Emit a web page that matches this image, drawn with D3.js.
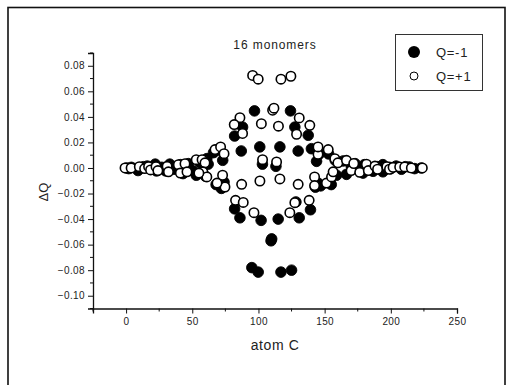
<!DOCTYPE html>
<html>
<head>
<meta charset="utf-8">
<script src="https://cdn.jsdelivr.net/npm/d3@7"></script>
<style>
  html, body { margin: 0; padding: 0; background: #fff; }
  svg { display: block; }
  text { font-family: "Liberation Sans", Arial, sans-serif; fill: #222; }
</style>
</head>
<body>
<svg id="chart" width="506" height="385"></svg>
<script>
// Charge change per carbon atom, Q = -1 (filled markers)
const xNeg = [0.5, 2, 4, 9, 13, 16, 19, 22, 23, 27, 30, 33, 36, 41, 43, 47, 50, 53, 56, 61, 60, 62,
  66, 69, 73, 68, 72, 74, 82, 88, 87, 97, 101, 103, 82, 86, 102, 110, 109.5, 95, 99.8,
  124.2, 127.5, 137.6, 130, 116.2, 113.2, 143.9, 140, 146, 145, 143, 147, 139.3, 130.8, 128.3, 114.9, 117, 125,
  153, 155, 158, 159, 164, 166.5, 170, 173, 179, 180, 184, 186.6, 190, 194, 194, 199, 200, 204, 208, 211, 214, 218, 223];
const yNeg = [0, -0.0005, 0.0005, -0.002, 0.001, 0.0015, -0.001, 0.003, -0.0023, 0.0005, -0.0023, 0.003, -0.001, 0.0026, -0.0044, 0.0034, -0.002, -0.0057, 0.004, 0.0073, -0.0065, 0.003,
  0.012, 0.014, 0.006, -0.013, -0.016, -0.011, 0.025, 0.032, 0.0133, 0.0447, 0.0165, 0.003, -0.032, -0.039, -0.041, -0.0555, -0.057, -0.078, -0.0815,
  0.0447, 0.032, 0.0256, 0.0133, 0.0165, 0.0013, 0.0052, 0.0151, 0.011, -0.0118, -0.015, -0.014, -0.0327, -0.039, -0.0266, -0.040, -0.0815, -0.080,
  0.011, -0.013, 0.006, -0.0057, 0.0055, -0.005, 0.002, 0.0034, -0.004, 0.0026, -0.001, -0.0026, 0.001, 0.0026, -0.003, 0.0005, -0.0005, 0.0015, -0.001, 0.001, 0.0008, -0.0005, 0];

// Charge change per carbon atom, Q = +1 (open markers)
const xPos = [-0.8, 3.8, 10, 14, 17, 18.5, 22.6, 24, 31, 32, 39.5, 41, 44.5, 46, 53, 57.4, 59.6, 58, 61, 55,
  67.2, 71.4, 74, 72.9, 74.7, 68.7, 95.6, 99.8, 117, 124.5, 110.7, 111.7, 102.2, 115.1, 86, 81.7, 88, 130.8, 138.8, 128.8,
  145, 145, 152.7, 103.1, 113.7, 87.3, 101.1, 116.2, 130, 142.4, 142.4, 151.4, 82.7, 88.5, 96.6, 138.3, 127.5, 123.7,
  155.2, 156.4, 157.7, 160, 166.5, 170, 172, 176.5, 181.6, 183, 188, 190, 197, 199, 201.7, 206.7, 210.5, 215.5, 223.8];
const yPos = [0, 0, 0.001, -0.0005, 0.001, -0.0015, 0.001, -0.002, 0.0013, -0.003, 0.0026, -0.004, 0.0034, -0.003, 0.0065, 0.0065, 0.004, -0.003, -0.007, -0.004,
  0.0144, 0.0165, 0.0112, -0.0057, -0.0149, -0.0118, 0.0724, 0.0695, 0.0695, 0.0718, 0.0452, 0.0468, 0.0347, 0.0327, 0.0394, 0.034, 0.027, 0.0392, 0.0334, 0.0264,
  0.0107, 0.0165, 0.0144, 0.0065, 0.0047, -0.0128, -0.0102, -0.0086, -0.0128, -0.007, -0.0138, -0.0118, -0.0253, -0.027, -0.035, -0.0253, -0.0272, -0.035,
  -0.007, -0.003, 0.0073, 0.004, 0.006, -0.002, 0.0035, -0.0034, 0.003, -0.002, 0.0015, -0.001, 0.001, -0.001, 0.0005, 0.0008, 0.0008, 0, 0];

const xTicks = [0, 50, 100, 150, 200, 250];
const yTicks = [-0.10, -0.08, -0.06, -0.04, -0.02, 0.00, 0.02, 0.04, 0.06, 0.08];
const seriesNames = ["Q=-1", "Q=+1"];

(function draw() {
  const svg = d3.select("#chart");

  // outer frame
  svg.append("rect")
    .attr("x", 8).attr("y", 7.5).attr("width", 497).attr("height", 400)
    .attr("fill", "none").attr("stroke", "#111").attr("stroke-width", 1.6);

  const plotL = 93, plotR = 457, plotT = 53, plotB = 308.5;
  const x = d3.scaleLinear().domain([-25, 250]).range([plotL, plotR]);
  const y = d3.scaleLinear().domain([-0.11, 0.09]).range([plotB, plotT]);

  // x axis: major ticks labelled, minor ticks between
  const xAxis = d3.axisBottom(x).tickValues(xTicks).tickFormat(d3.format("d")).tickSize(5).tickPadding(4);
  const gx = svg.append("g").attr("transform", `translate(0,${plotB})`).call(xAxis);
  gx.append("g").selectAll("line").data(d3.range(-25, 251, 50)).join("line")
    .attr("x1", d => x(d)).attr("x2", d => x(d)).attr("y1", 0).attr("y2", 3).attr("stroke", "#111");

  // y axis
  const yAxis = d3.axisLeft(y).tickValues(yTicks).tickFormat(d3.format(".2f")).tickSize(5).tickPadding(3);
  const gy = svg.append("g").attr("transform", `translate(${plotL},0)`).call(yAxis);
  gy.append("g").selectAll("line").data(d3.range(-11, 10, 2).map(v => v / 100)).join("line")
    .attr("y1", d => y(d)).attr("y2", d => y(d)).attr("x1", 0).attr("x2", -3).attr("stroke", "#111");

  [gx, gy].forEach(g => {
    g.select(".domain").attr("stroke", "#111").attr("stroke-width", 1.3);
    g.selectAll(".tick line").attr("stroke", "#111");
    g.selectAll("text").attr("font-size", 10).attr("letter-spacing", 0.4).attr("fill", "#222")
      .attr("font-family", "Liberation Sans, Arial, sans-serif");
  });

  // titles
  svg.append("text").attr("x", 275).attr("y", 49).attr("text-anchor", "middle")
    .attr("font-size", 12).attr("letter-spacing", 0.9).text("16 monomers");
  svg.append("text").attr("x", 275).attr("y", 350).attr("text-anchor", "middle")
    .attr("font-size", 14).attr("letter-spacing", 0.6).text("atom C");
  svg.append("text").attr("transform", "translate(48,192) rotate(-90)").attr("text-anchor", "middle")
    .attr("font-size", 13).text("ΔQ");

  // markers
  const negData = xNeg.map((v, i) => [v, yNeg[i]]);
  const posData = xPos.map((v, i) => [v, yPos[i]]);
  svg.append("g").selectAll("circle").data(negData).join("circle")
    .attr("cx", d => x(d[0])).attr("cy", d => y(d[1])).attr("r", 5.3)
    .attr("fill", "#000").attr("stroke", "#000").attr("stroke-width", 0.9);
  svg.append("g").selectAll("circle").data(posData).join("circle")
    .attr("cx", d => x(d[0])).attr("cy", d => y(d[1])).attr("r", 4.7)
    .attr("fill", "#fff").attr("stroke", "#000").attr("stroke-width", 1.6);

  // legend
  const lg = svg.append("g");
  lg.append("rect").attr("x", 395.5).attr("y", 34.5).attr("width", 87).attr("height", 56)
    .attr("fill", "#fff").attr("stroke", "#333").attr("stroke-width", 1);
  lg.append("circle").attr("cx", 414).attr("cy", 52).attr("r", 6).attr("fill", "#000");
  lg.append("circle").attr("cx", 414).attr("cy", 76).attr("r", 4).attr("fill", "#fff")
    .attr("stroke", "#000").attr("stroke-width", 1);
  lg.selectAll("text").data(seriesNames).join("text")
    .attr("x", 436).attr("y", (d, i) => 56.5 + i * 24)
    .attr("font-size", 13).attr("letter-spacing", 0.7).text(d => d);
})();
</script>
</body>
</html>
